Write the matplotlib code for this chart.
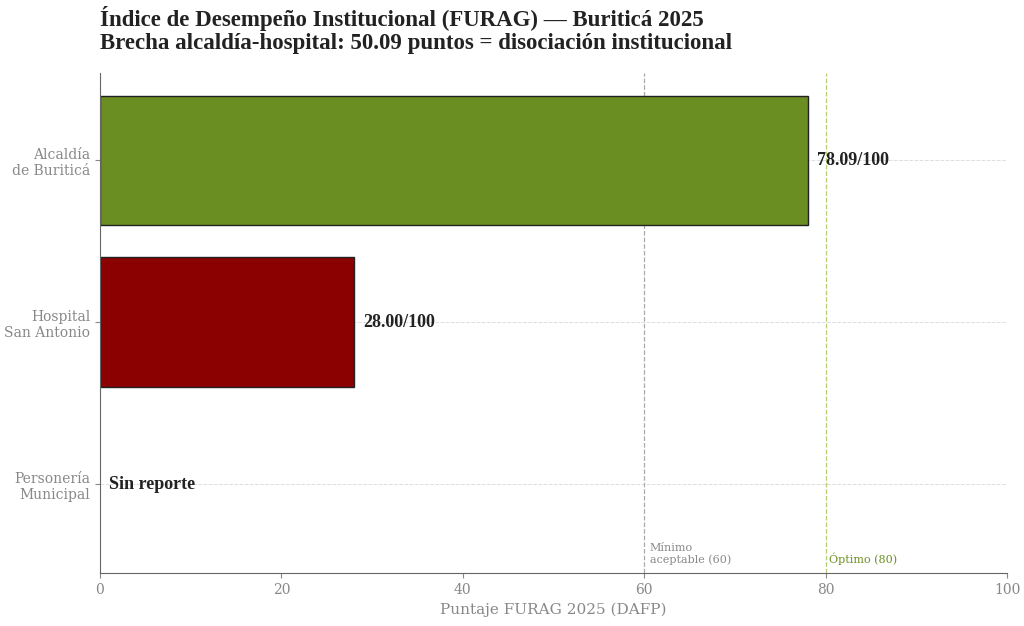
import matplotlib.pyplot as plt
import numpy as np

# FURAG 2025 scores
entities = ["Alcaldía\nde Buriticá", "Hospital\nSan Antonio", "Personería\nMunicipal"]
scores = [78.09, 28.00, None]
colors = ["#6B8E23", "#8B0000", "#FFFFFF"]

min_ok = 60
optimum = 80

plt.rcParams['font.family'] = ['DejaVu Serif']

fig = plt.figure(figsize=(10.24, 6.26), dpi=100)
ax = fig.add_axes([100/1024, 53/626, 907/1024, 500/626])

y = np.arange(len(entities))
for i, (s, c) in enumerate(zip(scores, colors)):
    if s is not None:
        ax.barh(y[i], s, height=0.8, color=c, edgecolor="#222222", linewidth=1.0, zorder=2)
        ax.text(s + 1, y[i], f"{s:.2f}/100", va="center", ha="left",
                fontsize=13, fontweight="bold", color="#222222", zorder=3,
                family="Liberation Serif")
    else:
        ax.text(1, y[i], "Sin reporte", va="center", ha="left",
                fontsize=13, fontweight="bold", color="#222222", zorder=3,
                family="Liberation Serif")

ax.axvline(min_ok, color="#aaaaaa", linestyle="--", linewidth=0.9, zorder=1)
ax.axvline(optimum, color="#b5cf72", linestyle="--", linewidth=0.9, zorder=1)
ax.text(min_ok + 0.6, 2.5, "Mínimo\naceptable (60)", fontsize=8, color="#888888",
        va="bottom", ha="left")
ax.text(optimum + 0.4, 2.5, "Óptimo (80)", fontsize=8, color="#6B8E23",
        va="bottom", ha="left")

ax.set_xlim(0, 100)
ax.set_ylim(2.55, -0.54)
ax.set_yticks(y)
ax.set_yticklabels(entities, fontsize=10, color="#888888")
ax.tick_params(axis="x", labelsize=10, colors="#888888")
ax.tick_params(axis="y", colors="#888888")
ax.grid(axis="y", color="#dddddd", linestyle="--", linewidth=0.7, zorder=0)
ax.set_axisbelow(True)
for side in ["top", "right"]:
    ax.spines[side].set_visible(False)
for side in ["left", "bottom"]:
    ax.spines[side].set_color("#666666")
ax.set_xlabel("Puntaje FURAG 2025 (DAFP)", fontsize=11, color="#888888")

fig.text(100/1024, 1 - 6/626,
         "Índice de Desempeño Institucional (FURAG) — Buriticá 2025\n"
         "Brecha alcaldía-hospital: 50.09 puntos = disociación institucional",
         fontsize=16.5, fontweight="bold", color="#222222", va="top", ha="left",
         family="Liberation Serif", linespacing=1.1)

fig.savefig("out.png", dpi=100)
